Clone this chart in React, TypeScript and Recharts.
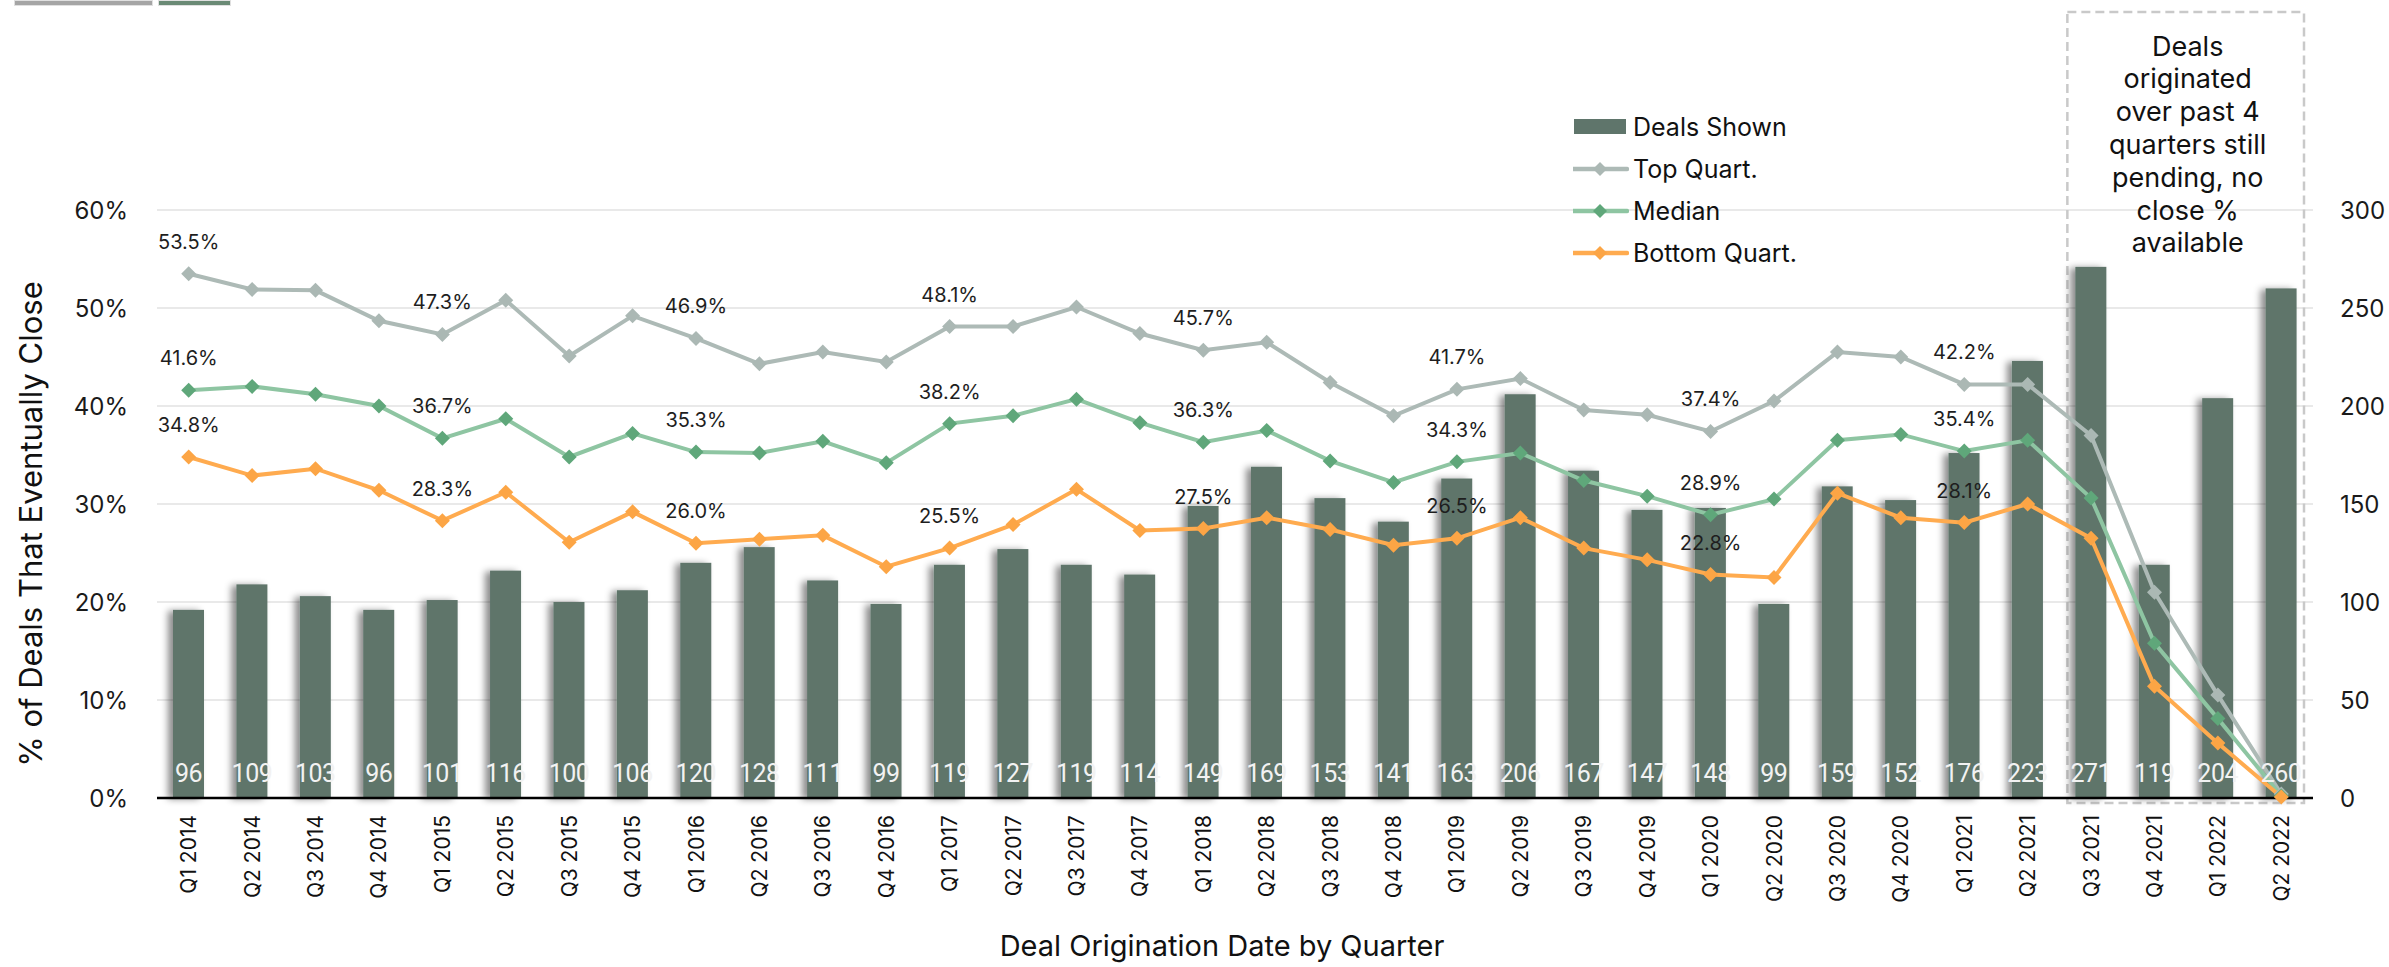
import React from 'react';
import {
  ComposedChart,
  Bar,
  Line,
  XAxis,
  YAxis,
  CartesianGrid,
  ReferenceArea,
  LabelList,
  Label,
} from 'recharts';

const quarters = [
  'Q1 2014', 'Q2 2014', 'Q3 2014', 'Q4 2014',
  'Q1 2015', 'Q2 2015', 'Q3 2015', 'Q4 2015',
  'Q1 2016', 'Q2 2016', 'Q3 2016', 'Q4 2016',
  'Q1 2017', 'Q2 2017', 'Q3 2017', 'Q4 2017',
  'Q1 2018', 'Q2 2018', 'Q3 2018', 'Q4 2018',
  'Q1 2019', 'Q2 2019', 'Q3 2019', 'Q4 2019',
  'Q1 2020', 'Q2 2020', 'Q3 2020', 'Q4 2020',
  'Q1 2021', 'Q2 2021', 'Q3 2021', 'Q4 2021',
  'Q1 2022', 'Q2 2022',
];

const dealsShown = [
  96, 109, 103, 96,
  101, 116, 100, 106,
  120, 128, 111, 99,
  119, 127, 119, 114,
  149, 169, 153, 141,
  163, 206, 167, 147,
  148, 99, 159, 152,
  176, 223, 271, 119,
  204, 260,
];

const topQuart = [
  53.5, 51.9, 51.8, 48.7,
  47.3, 50.8, 45.1, 49.2,
  46.9, 44.3, 45.5, 44.5,
  48.1, 48.1, 50.1, 47.4,
  45.7, 46.5, 42.4, 39.0,
  41.7, 42.8, 39.6, 39.1,
  37.4, 40.5, 45.5, 45.0,
  42.2, 42.2, 37.0, 21.0,
  10.5, 0.4,
];

const medianVals = [
  41.6, 42.0, 41.2, 40.0,
  36.7, 38.7, 34.8, 37.2,
  35.3, 35.2, 36.4, 34.2,
  38.2, 39.0, 40.7, 38.3,
  36.3, 37.5, 34.4, 32.2,
  34.3, 35.2, 32.4, 30.8,
  28.9, 30.5, 36.5, 37.1,
  35.4, 36.5, 30.6, 15.8,
  8.1, 0.2,
];

const bottomQuart = [
  34.8, 32.9, 33.6, 31.4,
  28.3, 31.2, 26.1, 29.2,
  26.0, 26.4, 26.8, 23.6,
  25.5, 27.9, 31.5, 27.3,
  27.5, 28.6, 27.4, 25.8,
  26.5, 28.6, 25.5, 24.3,
  22.8, 22.5, 31.1, 28.6,
  28.1, 30.0, 26.5, 11.4,
  5.6, 0.1,
];

const pctTicks = [0, 10, 20, 30, 40, 50, 60];
const countTicks = [0, 50, 100, 150, 200, 250, 300];

const noteFrom = 'Q3 2021';
const noteTo = 'Q2 2022';
const noteTopPct = 80.2;
const noteBottomPct = -0.5;
const noteLines = [
  'Deals',
  'originated',
  'over past 4',
  'quarters still',
  'pending, no',
  'close %',
  'available',
];

const BAR = '#5f756b';
const TOP_LINE = '#adbab6';
const TOP_DOT = '#abb8b4';
const MED_LINE = '#8ec5a2';
const MED_DOT = '#5fa77a';
const BOT_LINE = '#ffab4f';
const BOT_DOT = '#fca545';
const FONT = 'Inter, "Noto Sans", sans-serif';

const legendItems = [
  { name: 'Deals Shown', kind: 'bar', line: BAR, dot: BAR },
  { name: 'Top Quart.', kind: 'line', line: TOP_LINE, dot: TOP_DOT },
  { name: 'Median', kind: 'line', line: MED_LINE, dot: MED_DOT },
  { name: 'Bottom Quart.', kind: 'line', line: BOT_LINE, dot: BOT_DOT },
];

const data = quarters.map((q, i) => ({
  q,
  deals: dealsShown[i],
  top: topQuart[i],
  med: medianVals[i],
  bot: bottomQuart[i],
}));

const makeDiamond = (color: string) => (props: any) => {
  const { cx, cy, index } = props;
  if (cx == null || cy == null) return <g key={`d-${index}`} />;
  const r = 7.5;
  return (
    <path
      key={`d-${color}-${index}`}
      d={`M${cx},${cy - r} L${cx + r},${cy} L${cx},${cy + r} L${cx - r},${cy} Z`}
      fill={color}
    />
  );
};

const lineLabel = (props: any) => {
  const { x, y, value, index } = props;
  if (index % 4 !== 0 || index > 28) return null;
  return (
    <text
      key={`ll-${index}-${value}`}
      x={Number(x)}
      y={Number(y) - 32}
      textAnchor="middle"
      dominantBaseline="central"
      fontSize={20}
      fill="#1e1e1e"
      fontFamily={FONT}
    >
      {Number(value).toFixed(1)}%
    </text>
  );
};

const barLabel = (props: any) => {
  const { x, y, width, height, value, index } = props;
  const bottom = Number(y) + Number(height);
  return (
    <text
      key={`bl-${index}`}
      x={Number(x) + Number(width) / 2}
      y={bottom - 25}
      textAnchor="middle"
      dominantBaseline="central"
      fontSize={25}
      fill="#f2f2f2"
      fontFamily='"Liberation Sans Narrow", "Roboto", sans-serif'
      style={{ letterSpacing: '-0.5px' }}
    >
      {value}
    </text>
  );
};

const barShape = (props: any) => {
  const { x, y, width, height } = props;
  if (!height || height <= 0) return <g />;
  return (
    <rect
      x={x}
      y={y}
      width={width}
      height={height}
      fill={BAR}
      filter="url(#barShadow)"
    />
  );
};

const XTick = (props: any) => {
  const { x, y, payload } = props;
  return (
    <text
      x={x}
      y={y}
      transform={`rotate(-90 ${x} ${y})`}
      textAnchor="end"
      dominantBaseline="central"
      fontSize={21}
      fill="#111"
      fontFamily={FONT}
    >
      {payload.value}
    </text>
  );
};

const noteShape = (props: any) => {
  const { x, y, width, height } = props;
  const left = x + 8;
  const right = x + width - 9;
  const cx = (left + right) / 2 + 2;
  return (
    <g>
      <rect
        x={left}
        y={y}
        width={right - left}
        height={height}
        fill="none"
        stroke="#c9c9c9"
        strokeWidth={2.5}
        strokeDasharray="9 5"
      />
      {noteLines.map((t, i) => (
        <text
          key={t}
          x={cx}
          y={y + 34 + i * 32.8}
          textAnchor="middle"
          dominantBaseline="central"
          fontSize={27}
          fill="#111"
          fontFamily={FONT}
        >
          {t}
        </text>
      ))}
    </g>
  );
};

const yTitle = (props: any) => {
  const { viewBox } = props;
  const cy = viewBox.y + viewBox.height / 2 + 20;
  return (
    <text
      x={30}
      y={cy}
      transform={`rotate(-90 30 ${cy})`}
      textAnchor="middle"
      dominantBaseline="central"
      fontSize={31}
      fill="#111"
      fontFamily={FONT}
    >
      % of Deals That Eventually Close
    </text>
  );
};

const xTitle = (props: any) => {
  const { viewBox } = props;
  const cx = viewBox.x + viewBox.width / 2 - 13;
  return (
    <text
      x={cx}
      y={945}
      textAnchor="middle"
      dominantBaseline="central"
      fontSize={29}
      fill="#111"
      fontFamily={FONT}
    >
      Deal Origination Date by Quarter
    </text>
  );
};

const LegendBox = () => (
  <div
    style={{
      position: 'absolute',
      left: 1573,
      top: 106,
      fontFamily: FONT,
      fontSize: 25,
      color: '#111',
    }}
  >
    {legendItems.map((it) => (
      <div
        key={it.name}
        style={{ display: 'flex', alignItems: 'center', height: 42 }}
      >
        <svg width={56} height={20} style={{ marginRight: 4 }}>
          {it.kind === 'bar' ? (
            <rect x={1} y={2} width={52} height={15} fill={it.line} />
          ) : (
            <g>
              <line x1={0} y1={10} x2={54} y2={10} stroke={it.line} strokeWidth={4.5} strokeLinecap="round" />
              <path d="M27,3 L34,10 L27,17 L20,10 Z" fill={it.dot} />
            </g>
          )}
        </svg>
        <span>{it.name}</span>
      </div>
    ))}
  </div>
);

export default function App() {
  return (
    <div
      style={{
        position: 'absolute',
        left: 0,
        top: 0,
        width: 2389,
        height: 967,
        background: '#fff',
        overflow: 'hidden',
      }}
    >
      <div style={{ position: 'absolute', left: 14, top: 0, width: 139, height: 6, background: '#a5a5a5', border: '1px solid #e0e0e0', boxSizing: 'border-box' }} />
      <div style={{ position: 'absolute', left: 158, top: 0, width: 73, height: 6, background: '#6a8a75', border: '1px solid #e0e0e0', boxSizing: 'border-box' }} />
      <ComposedChart
        width={2389}
        height={967}
        data={data}
        margin={{ top: 210, right: 0, bottom: 0, left: 0 }}
      >
        <defs>
          <filter id="barShadow" x="-60%" y="-10%" width="200%" height="120%">
            <feDropShadow dx={-5} dy={1} stdDeviation={3.5} floodColor="#000" floodOpacity={0.45} />
          </filter>
        </defs>
        <CartesianGrid yAxisId="left" vertical={false} stroke="#e9e9e9" strokeWidth={2} />
        <XAxis
          dataKey="q"
          interval={0}
          height={169}
          tickSize={0}
          tickMargin={17}
          tick={<XTick />}
          axisLine={{ stroke: '#000', strokeWidth: 2.5 }}
          tickLine={false}
        >
          <Label content={xTitle} />
        </XAxis>
        <YAxis
          yAxisId="left"
          orientation="left"
          width={157}
          domain={[0, 60]}
          ticks={pctTicks}
          tickFormatter={(v: number) => `${v}%`}
          axisLine={false}
          tickLine={false}
          tickSize={0}
          tickMargin={29}
          tick={{ fontSize: 24, fill: '#1a1a1a', fontFamily: FONT }}
        >
          <Label content={yTitle} />
        </YAxis>
        <YAxis
          yAxisId="right"
          orientation="right"
          width={76}
          domain={[0, 300]}
          ticks={countTicks}
          axisLine={false}
          tickLine={false}
          tickSize={0}
          tickMargin={27}
          tick={{ fontSize: 24, fill: '#1a1a1a', fontFamily: FONT, textAnchor: 'start' }}
        />
        <Bar
          yAxisId="right"
          dataKey="deals"
          barSize={31}
          fill={BAR}
          shape={barShape}
          isAnimationActive={false}
        >
          <LabelList dataKey="deals" content={barLabel} />
        </Bar>
        <ReferenceArea
          yAxisId="left"
          x1={noteFrom}
          x2={noteTo}
          y1={noteBottomPct}
          y2={noteTopPct}
          ifOverflow="visible"
          shape={noteShape}
        />
        <Line
          yAxisId="left"
          type="linear"
          dataKey="top"
          stroke={TOP_LINE}
          strokeWidth={4}
          dot={makeDiamond(TOP_DOT)}
          activeDot={false}
          isAnimationActive={false}
        >
          <LabelList dataKey="top" content={lineLabel} />
        </Line>
        <Line
          yAxisId="left"
          type="linear"
          dataKey="med"
          stroke={MED_LINE}
          strokeWidth={4}
          dot={makeDiamond(MED_DOT)}
          activeDot={false}
          isAnimationActive={false}
        >
          <LabelList dataKey="med" content={lineLabel} />
        </Line>
        <Line
          yAxisId="left"
          type="linear"
          dataKey="bot"
          stroke={BOT_LINE}
          strokeWidth={4}
          dot={makeDiamond(BOT_DOT)}
          activeDot={false}
          isAnimationActive={false}
        >
          <LabelList dataKey="bot" content={lineLabel} />
        </Line>
      </ComposedChart>
      <LegendBox />
    </div>
  );
}
